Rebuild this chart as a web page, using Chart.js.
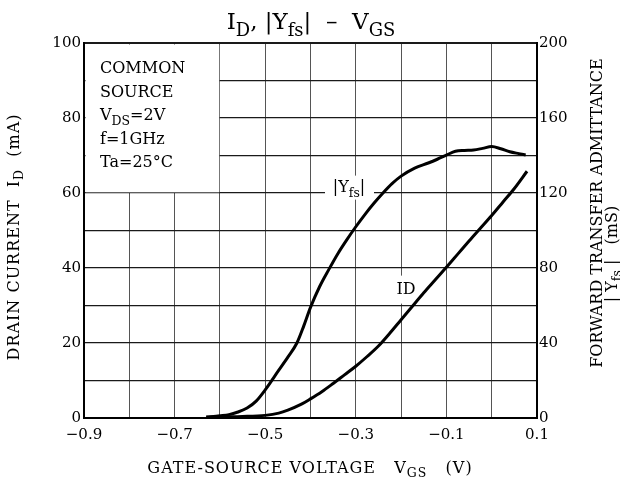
<!DOCTYPE html>
<html>
<head>
<meta charset="utf-8">
<script src="https://cdn.jsdelivr.net/npm/chart.js@4/dist/chart.umd.min.js"></script>
<style>
html,body{margin:0;padding:0;background:#fff;}
canvas{display:block;}
</style>
</head>
<body>
<canvas id="c" width="620" height="486"></canvas>
<script>
// ---- data ----
const vgsYfs = [-0.63,-0.60,-0.58,-0.56,-0.54,-0.52,-0.50,-0.47,-0.45,-0.43,-0.415,-0.40,-0.38,-0.36,-0.34,-0.32,-0.30,-0.28,-0.26,-0.24,-0.22,-0.20,-0.17,-0.14,-0.12,-0.10,-0.08,-0.06,-0.04,-0.02,0.00,0.02,0.04,0.06,0.075];
const yfs    = [0.5,1.2,1.8,3.2,5.3,9,15,25.5,32.5,40,49,59,70,79,87.5,95,102,108.5,114.5,120,125,129,133.3,136,138,140.2,142.3,142.7,142.9,143.8,144.8,143.6,142,141,140.3];
const vgsId  = [-0.63,-0.60,-0.55,-0.50,-0.47,-0.45,-0.42,-0.40,-0.375,-0.35,-0.325,-0.30,-0.275,-0.25,-0.225,-0.20,-0.175,-0.15,-0.125,-0.10,-0.075,-0.05,-0.025,0.00,0.025,0.05,0.078];
const idmA   = [0.2,0.3,0.4,0.7,1.3,2.1,3.7,5.1,7.0,9.2,11.5,13.8,16.4,19.2,22.6,26.2,29.8,33.4,36.8,40.2,43.7,47.2,50.6,54.0,57.6,61.2,65.8];
const xTickLabels  = {"-9":"\u22120.9","-7":"\u22120.7","-5":"\u22120.5","-3":"\u22120.3","-1":"\u22120.1","1":"0.1"};
const yTickLabels  = [0,20,40,60,80,100];
const y1TickLabels = [0,40,80,120,160,200];
const conditions = [[["COMMON",0]],[["SOURCE",0]],[["V",0],["DS",1],["=2V",0]],[["f=1GHz",0]],[["Ta=25\u00b0C",0]]];

const FONT = '"DejaVu Serif", "Liberation Serif", serif';

function setFont(ctx, size, sub, ls){
  ctx.font = (sub? size*0.78 : size)+'px '+FONT;
  try{ ctx.letterSpacing = (ls||0)+'px'; }catch(e){}
}
function richWidth(ctx, segs, size, ls){
  let w=0;
  for(const [t,s] of segs){ setFont(ctx,size,s,ls); w+=ctx.measureText(t).width; }
  return w;
}
// draws rich text; (x,y) = center of the main text line (align 'center') or left edge ('left')
function drawRich(ctx, segs, x, y, size, align, rot, ls){
  ctx.save();
  ctx.translate(x,y);
  if(rot) ctx.rotate(rot);
  const w = richWidth(ctx, segs, size, ls);
  let cx = align==='center' ? -w/2 : 0;
  ctx.fillStyle='#000';
  ctx.textBaseline='alphabetic';
  ctx.textAlign='left';
  const base = size*0.36;
  for(const [t,s] of segs){
    setFont(ctx,size,s,ls);
    ctx.fillText(t, cx, base + (s? size*0.28 : 0));
    cx += ctx.measureText(t).width;
  }
  ctx.restore();
}

const decor = {
  id:'decor',
  beforeDraw(chart){
    const c=chart.ctx; c.save(); c.fillStyle='#fff'; c.fillRect(0,0,chart.width,chart.height); c.restore();
  },
  beforeDatasetsDraw(chart){
    const c=chart.ctx, x=chart.scales.x, y=chart.scales.y;
    c.save();
    c.fillStyle='#fff';
    // conditions box (no grid inside)
    const l=x.getPixelForValue(-0.9), r=x.getPixelForValue(-0.6), t=y.getPixelForValue(100), b=y.getPixelForValue(60);
    c.fillRect(l+1.5, t+1.5, r-l-2.2, b-t-2.2);
    // curve labels backgrounds
    const yx=x.getPixelForValue(-0.315), yy=y.getPixelForValue(61.7);
    c.fillRect(yx-24, yy-11, 49, 24);
    const ix=x.getPixelForValue(-0.189), iy=y.getPixelForValue(34.5);
    c.fillRect(ix-13, iy-13, 27, 28);
    c.restore();
    drawRich(c, [["|Y",0],["fs",1],["|",0]], yx, yy, 16, 'center');
    drawRich(c, [["ID",0]], ix, iy, 16, 'center');
    // conditions text
    conditions.forEach((segs,i)=>{
      drawRich(c, segs, l+16, t+24.5+i*23.5, 16, 'left');
    });
  },
  afterDraw(chart){
    const c=chart.ctx;
    drawRich(c, [["I",0],["D",1],[", |Y",0],["fs",1],["|  \u2013  V",0],["GS",1]], 311, 21, 23, 'center');
    drawRich(c, [["GATE-SOURCE VOLTAGE   V",0],["GS",1],["   (V)",0]], 310, 467, 16, 'center', 0, 1);
    drawRich(c, [["DRAIN CURRENT  I",0],["D",1],["  (mA)",0]], 13, 237, 16, 'center', -Math.PI/2, 1);
    drawRich(c, [["FORWARD TRANSFER ADMITTANCE",0]], 596, 213, 16, 'center', -Math.PI/2);
    drawRich(c, [["| Y",0],["fs",1],[" |   (mS)",0]], 611, 254, 16, 'center', -Math.PI/2);
  }
};

const tickFont = {family: FONT, size: 15};

new Chart(document.getElementById('c'), {
  type:'line',
  data:{
    datasets:[
      {label:'|Yfs|', yAxisID:'y1', data: vgsYfs.map((v,i)=>({x:v,y:yfs[i]})),
       borderColor:'#000', borderWidth:3, pointRadius:0, fill:false, cubicInterpolationMode:'monotone'},
      {label:'ID', yAxisID:'y', data: vgsId.map((v,i)=>({x:v,y:idmA[i]})),
       borderColor:'#000', borderWidth:3, pointRadius:0, fill:false, cubicInterpolationMode:'monotone'}
    ]
  },
  options:{
    responsive:false, animation:false, devicePixelRatio:1,
    layout:{padding:{top:43,left:0,right:0,bottom:0}},
    plugins:{legend:{display:false}, title:{display:false}, tooltip:{enabled:false}},
    scales:{
      x:{type:'linear', min:-0.9, max:0.1,
         afterFit(s){ s.height=68; },
         ticks:{stepSize:0.1, autoSkip:false, maxRotation:0, padding:8, color:'#000', font:tickFont,
                callback(v){ const k=String(Math.round(v*10)); return xTickLabels[k]||''; }},
         grid:{color:'#555', lineWidth:1, drawTicks:false},
         border:{color:'#000', width:2}},
      y:{position:'left', min:0, max:100,
         afterFit(s){ s.width=84; },
         ticks:{stepSize:10, autoSkip:false, padding:3, color:'#000', font:tickFont,
                callback(v){ return yTickLabels.includes(v)? String(v) : ''; }},
         grid:{color:'#1a1a1a', lineWidth(ctx){ return ctx.tick && ctx.tick.value===100 ? 2 : 1.3; }, drawTicks:false},
         border:{color:'#000', width:2}},
      y1:{position:'right', min:0, max:200,
         afterFit(s){ s.width=83; },
         ticks:{stepSize:20, autoSkip:false, padding:2, color:'#000', font:tickFont,
                callback(v){ return y1TickLabels.includes(v)? String(v) : ''; }},
         grid:{display:false, drawTicks:false},
         border:{color:'#000', width:2}}
    }
  },
  plugins:[decor]
});
</script>
</body>
</html>
